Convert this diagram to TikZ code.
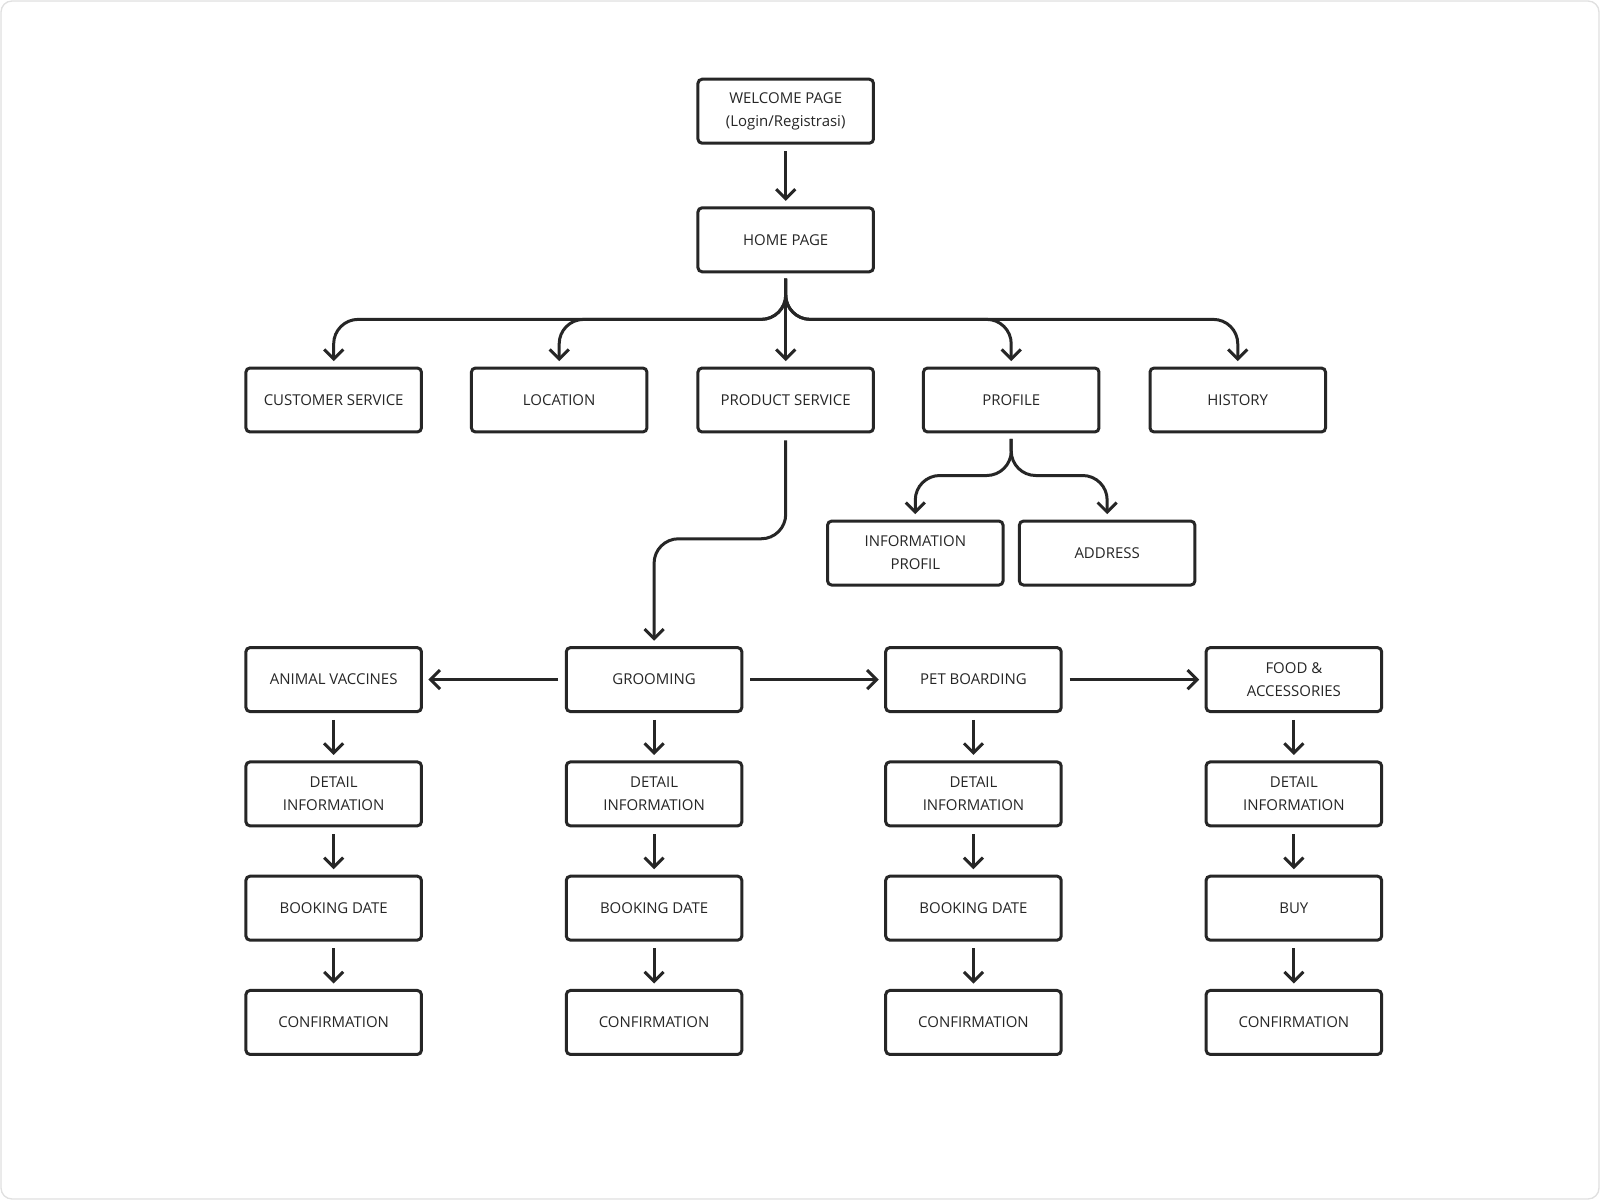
\documentclass[tikz,border=0pt]{standalone}
\usepackage{fontspec}
\setmainfont{Open Sans}
\usetikzlibrary{arrows.meta}
\begin{document}
\begin{tikzpicture}[x=0.75pt,y=-0.75pt,
 box/.style={draw=black!85,line width=2.2pt,rounded corners=3pt,minimum width=129pt,minimum height=47pt,align=center,font=\fontsize{11}{17}\selectfont,text=black!85,inner sep=1pt},
 ar/.style={draw=black!85,line width=2.2pt,-{Straight Barb[length=7pt,width=14pt,line width=2.2pt]},rounded corners=18pt}]
\useasboundingbox (0,0) rectangle (1568,1176);
\draw[black!12,rounded corners=8pt,line width=1pt,fill=white] (1,1) rectangle (1567,1175);
\node[box] (wel) at (770,109) {WELCOME PAGE\\(Login/Registrasi)};
\node[box] (home) at (770,235) {HOME PAGE};
\node[box] (cs) at (327,392) {CUSTOMER SERVICE};
\node[box] (loc) at (548,392) {LOCATION};
\node[box] (ps) at (770,392) {PRODUCT SERVICE};
\node[box] (pro) at (991,392) {PROFILE};
\node[box] (his) at (1213,392) {HISTORY};
\node[box] (ip) at (897,542) {INFORMATION\\PROFIL};
\node[box] (adr) at (1085,542) {ADDRESS};
\foreach \n/\x/\t/\b in {a/327/ANIMAL VACCINES/BOOKING DATE,g/641/GROOMING/BOOKING DATE,p/954/PET BOARDING/BOOKING DATE,f/1268/{FOOD \&\\ACCESSORIES}/BUY}{
 \node[box] (\n1) at (\x,666) {\t};
 \node[box] (\n2) at (\x,778) {DETAIL\\INFORMATION};
 \node[box] (\n3) at (\x,890) {\b};
 \node[box] (\n4) at (\x,1002) {CONFIRMATION};
 \draw[ar] ([yshift=-5pt]\n1.south) -- ([yshift=4pt]\n2.north);
 \draw[ar] ([yshift=-5pt]\n2.south) -- ([yshift=4pt]\n3.north);
 \draw[ar] ([yshift=-5pt]\n3.south) -- ([yshift=4pt]\n4.north);
}
\draw[ar] ([yshift=-5pt]wel.south) -- ([yshift=4pt]home.north);
\coordinate (hs) at (770,273);
\foreach \t in {cs,loc,pro,his}{
 \draw[ar] (hs) -- (770,313) -| ([yshift=4pt]\t.north);
}
\draw[ar] (hs) -- ([yshift=4pt]ps.north);
\coordinate (prs) at (991,430);
\draw[ar] (prs) -- (991,466) -| ([yshift=4pt]ip.north);
\draw[ar] (prs) -- (991,466) -| ([yshift=4pt]adr.north);
\draw[ar] ([yshift=-5pt]ps.south) -- (770,528) -| ([yshift=4pt]g1.north);
\draw[ar] ([xshift=-5pt]g1.west) -- ([xshift=4pt]a1.east);
\draw[ar] ([xshift=5pt]g1.east) -- ([xshift=-4pt]p1.west);
\draw[ar] ([xshift=5pt]p1.east) -- ([xshift=-4pt]f1.west);
\end{tikzpicture}
\end{document}
